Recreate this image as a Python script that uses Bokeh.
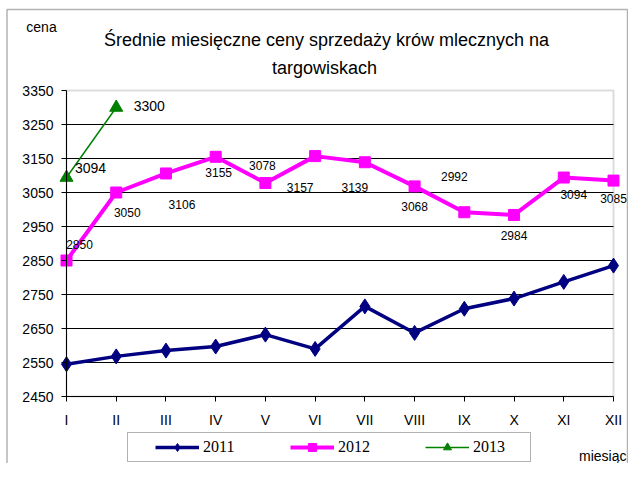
from bokeh.plotting import figure
from bokeh.models import (Range1d, FixedTicker, Label, Legend, LegendItem,
                          PolyAnnotation, BoxAnnotation, ColumnDataSource)
from bokeh.core.properties import value
from bokeh.embed import file_html
from bokeh.resources import INLINE

# ---- data ----
months = ["I", "II", "III", "IV", "V", "VI", "VII", "VIII", "IX", "X", "XI", "XII"]
month_idx = list(range(1, 13))
y2011 = [2545, 2568, 2585, 2597, 2632, 2590, 2715, 2637, 2708, 2738, 2787, 2835]
y2012 = [2850, 3050, 3106, 3155, 3078, 3157, 3139, 3068, 2992, 2984, 3094, 3085]
y2013 = [3094, 3300]
y_ticks = [2450, 2550, 2650, 2750, 2850, 2950, 3050, 3150, 3250, 3350]
title_lines = ["Średnie miesięczne ceny sprzedaży krów mlecznych na", "targowiskach"]

# ---- label placement (pixels) ----
dx2012 = [13, 11, 16, 3, -3, -15, -10, 0, -10, 0, 10, 0]
dy2012 = [-16, 20, 31, 16, -17, 31, 25, 20, -36, 21, 17, 18]
dx2013 = [24, 33]
dy2013 = [-10, -2]

FONT = "Liberation Sans"
W, H = 628, 463
# plot area in picture pixels (canvas starts at picture (1, 1))
PL, PR, PT, PB = 67, 614, 91, 397
XMIN, XMAX = month_idx[0], month_idx[-1]
YMIN, YMAX = y_ticks[0], y_ticks[-1]
XS = (PR - PL) / (XMAX - XMIN)
YS = (PB - PT) / (YMAX - YMIN)


def xd(px):
    return XMIN + (px - PL) / XS


def yd(py):
    return YMIN + (PB - py) / YS


p = figure(width=W, height=H, x_range=Range1d(xd(1), xd(1 + W)),
           y_range=Range1d(yd(1 + H), yd(1)),
           output_backend="svg", toolbar_location=None, min_border=0)
p.background_fill_color = "white"
p.border_fill_color = "white"
p.outline_line_color = None
p.xgrid.visible = False
p.ygrid.visible = False

p.yaxis.ticker = FixedTicker(ticks=y_ticks)
p.yaxis.fixed_location = XMIN
p.yaxis.bounds = (YMIN, YMAX)
p.xaxis.ticker = FixedTicker(ticks=month_idx)
p.xaxis.fixed_location = YMIN
p.xaxis.bounds = (XMIN, XMAX)
p.xaxis.major_label_overrides = {i: m for i, m in zip(month_idx, months)}
for ax in (p.xaxis, p.yaxis):
    ax.axis_line_color = "black"
    ax.axis_line_width = 1
    ax.major_tick_line_color = "black"
    ax.major_tick_in = 0
    ax.major_tick_out = 5
    ax.minor_tick_line_color = None
    ax.major_label_text_font = FONT
    ax.major_label_text_font_size = "14px"
    ax.major_label_text_color = "black"
p.xaxis.major_label_standoff = 10
p.yaxis.major_label_standoff = 8

# grid lines and plot-area border
inner = y_ticks[1:-1]
p.segment(x0=[XMIN] * len(inner), x1=[XMAX] * len(inner), y0=inner, y1=inner,
          line_color="black", line_width=1)
p.add_layout(BoxAnnotation(left=XMIN, right=XMAX, bottom=YMIN, top=YMAX,
                           fill_alpha=0, line_color="#8c8c8c", line_width=2,
                           level="underlay"))

src11 = ColumnDataSource(dict(x=month_idx, y=y2011))
src12 = ColumnDataSource(dict(x=month_idx, y=y2012, lab=[str(v) for v in y2012],
                              dx=dx2012, dy=dy2012))
src13 = ColumnDataSource(dict(x=month_idx[:2], y=y2013, lab=[str(v) for v in y2013],
                              dx=dx2013, dy=dy2013))

l11 = p.line("x", "y", source=src11, line_color="#000080", line_width=3.5)
m11 = p.scatter("x", "y", source=src11, marker="diamond", size=15,
                fill_color="#000080", line_color="#000080")
l12 = p.line("x", "y", source=src12, line_color="#FF00FF", line_width=4)
m12 = p.scatter("x", "y", source=src12, marker="square", size=11,
                fill_color="#FF00FF", line_color="#FF00FF")
l13 = p.line("x", "y", source=src13, line_color="#008000", line_width=1.5)
m13 = p.scatter("x", "y", source=src13, marker="triangle", size=13,
                fill_color="#008000", line_color="#008000")

p.text("x", "y", text="lab", source=src12, x_offset="dx", y_offset="dy",
       text_font=value(FONT), text_font_size="12px", text_color="black",
       text_align="center", text_baseline="middle")
p.text("x", "y", text="lab", source=src13, x_offset="dx", y_offset="dy",
       text_font=value(FONT), text_font_size="14px", text_color="black",
       text_align="center", text_baseline="middle")


def lab(text, px, py, size, align="center", font=FONT):
    p.add_layout(Label(x=xd(px), y=yd(py), text=text, text_font=font,
                       text_font_size=size, text_color="black",
                       text_align=align, text_baseline="middle"))


lab(title_lines[0], 327, 40, "18px")
lab(title_lines[1], 325, 68, "18px")
lab("cena", 42, 27, "14px")
lab("miesiąc", 627, 456, "14px", align="right")

# outer frame
fx0, fx1, fy0, fy1 = 7.5, 628, 10, 480
p.add_layout(PolyAnnotation(xs=[xd(fx0), xd(fx1), xd(fx1), xd(fx0)],
                            ys=[yd(fy0), yd(fy0), yd(fy1), yd(fy1)],
                            fill_alpha=0, line_color="black", line_width=1.5))
# legend box
bx0, bx1, by0, by1 = 128, 531, 433, 462
p.add_layout(PolyAnnotation(xs=[xd(bx0), xd(bx1), xd(bx1), xd(bx0)],
                            ys=[yd(by0), yd(by0), yd(by1), yd(by1)],
                            fill_alpha=0, line_color="black", line_width=1))

legend = Legend(items=[LegendItem(label="2011", renderers=[l11, m11]),
                       LegendItem(label="2012", renderers=[l12, m12]),
                       LegendItem(label="2013", renderers=[l13, m13])],
                orientation="horizontal", location=(155, 1 + H - 458),
                glyph_width=44, glyph_height=20, label_width=34, label_height=20,
                label_standoff=4, spacing=53, padding=0, margin=0,
                border_line_color=None, background_fill_alpha=0,
                label_text_font="Liberation Serif", label_text_font_size="16px",
                label_text_color="black")
p.add_layout(legend)

open("out.html", "w").write(file_html(p, INLINE))
